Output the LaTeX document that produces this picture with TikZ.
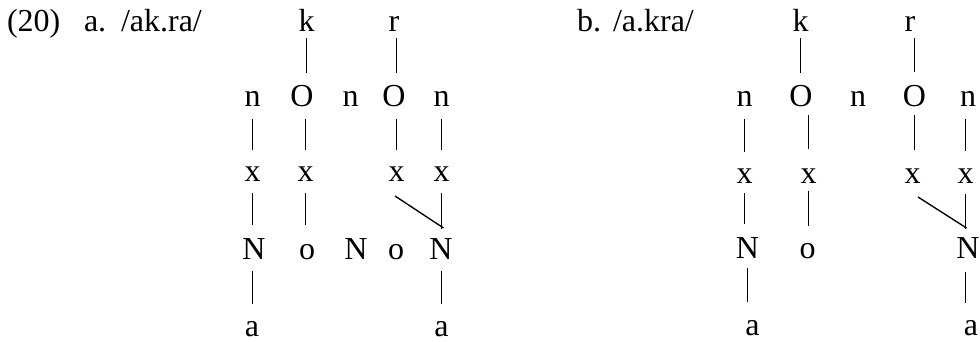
\documentclass[tikz,border=0pt]{standalone}
\usepackage{fontspec}
\setmainfont{Liberation Serif}
\begin{document}
\begin{tikzpicture}[x=1pt,y=-1pt,
  lab/.style={inner sep=0pt,outer sep=0pt,font=\fontsize{32pt}{38pt}\selectfont,anchor=base},
  seg/.style={inner sep=0pt,outer sep=0pt,font=\fontsize{32pt}{38pt}\selectfont,text height=0pt,text depth=0pt,anchor=center},
  ln/.style={line width=1.35pt},
  rowA/.style={ln,shorten <=6pt,shorten >=34pt},
  rowB/.style={ln,shorten <=12pt,shorten >=31pt},
  rowC/.style={ln,shorten <=10pt,shorten >=34pt},
  rowCr/.style={ln,shorten <=10pt,shorten >=30pt},
  rowD/.style={ln,shorten <=12pt,shorten >=32pt}]
\useasboundingbox (0,0) rectangle (980,342);
% labels
\node[lab,anchor=base west] (ex) at (7,32) {(20)};
\node[lab,anchor=base west] (la) at (84,32) {a.};
\node[lab,anchor=base west] (wa) at (121,32) {/ak.ra/};
\node[lab,anchor=base west] (lb) at (577,32) {b.};
\node[lab,anchor=base west] (wb) at (613,32) {/a.kra/};
% ---------- a ----------
\node[seg] (ak) at (306.5,32) {k};
\node[seg] (ar) at (394,32) {r};
\node[seg] (an1) at (252.5,107) {n};
\node[seg] (aO1) at (302,107) {O};
\node[seg] (an2) at (350.5,107) {n};
\node[seg] (aO2) at (394,107) {O};
\node[seg] (an3) at (441.5,107) {n};
\node[seg] (ax1) at (252.5,182) {x};
\node[seg] (ax2) at (305.5,182) {x};
\node[seg] (ax3) at (396.5,182) {x};
\node[seg] (ax4) at (441.5,182) {x};
\node[seg] (aN1) at (254,259) {N};
\node[seg] (ao1) at (307,259) {o};
\node[seg] (aN2) at (356,259) {N};
\node[seg] (ao2) at (396,259) {o};
\node[seg] (aN3) at (441,259) {N};
\node[seg] (aa1) at (252,336) {a};
\node[seg] (aa2) at (441.5,336) {a};
\draw[rowA] (ak) -- (ak |- aO1);
\draw[rowA] (ax3 |- ar) -- (ax3 |- aO2);
\draw[rowB] (an1) -- (ax1);
\draw[rowB] (ax2 |- aO1) -- (ax2);
\draw[rowB] (ax3 |- aO2) -- (ax3);
\draw[rowB] (an3) -- (ax4);
\draw[rowC] (ax1) -- (ax1 |- aN1);
\draw[rowC] (ax2) -- (ax2 |- ao1);
\draw[rowCr] (ax4) -- (ax4 |- aN3);
\draw[ln] ([shift={(-1.5,14)}]ax3.center) -- ([shift={(2,-31)}]ax4 |- aN3);
\draw[rowD] (ax1 |- aN1) -- (ax1 |- aa1);
\draw[rowD] (ax4 |- aN3) -- (ax4 |- aa2);
% ---------- b ----------
\node[seg] (bk) at (800.5,32) {k};
\node[seg] (br) at (910,32) {r};
\node[seg] (bn1) at (744.5,107) {n};
\node[seg] (bO1) at (801,107) {O};
\node[seg] (bn2) at (858,107) {n};
\node[seg] (bO2) at (914.5,107) {O};
\node[seg] (bn3) at (968,107) {n};
\node[seg] (bx1) at (744.5,183) {x};
\node[seg] (bx2) at (808.5,183) {x};
\node[seg] (bx3) at (912.5,183) {x};
\node[seg] (bx4) at (965.5,183) {x};
\node[seg] (bN1) at (747.5,258) {N};
\node[seg] (bo1) at (807.5,258) {o};
\node[seg] (bN3) at (968,258) {N};
\node[seg] (ba1) at (752.5,335) {a};
\node[seg] (ba2) at (971,335) {a};
\draw[rowA] (bk) -- (bk |- bO1);
\draw[rowA] (bO2 |- br) -- (bO2);
\draw[rowB] (bn1) -- (bn1 |- bx1);
\draw[ln,shorten <=8pt,shorten >=33pt] (bx2 |- bO1) -- (bx2);
\draw[ln,shorten <=8pt,shorten >=33pt] (bO2) -- (bO2 |- bx3);
\draw[rowB] (bx4 |- bn3) -- (bx4);
\draw[rowC] (bn1 |- bx1) -- (bn1 |- bN1);
\draw[ln,shorten <=7pt,shorten >=32pt] (bx2) -- (bx2 |- bo1);
\draw[ln,shorten <=10pt,shorten >=29pt] (bx4) -- (bx4 |- bN3);
\draw[ln] ([shift={(5.5,14)}]bx3.center) -- ([shift={(1,-30)}]bx4 |- bN3);
\draw[ln,shorten <=9pt,shorten >=33pt] (bN1) -- (bN1 |- ba1);
\draw[ln,shorten <=14pt,shorten >=32pt] (bx4 |- bN3) -- (bx4 |- ba2);
\end{tikzpicture}
\end{document}
